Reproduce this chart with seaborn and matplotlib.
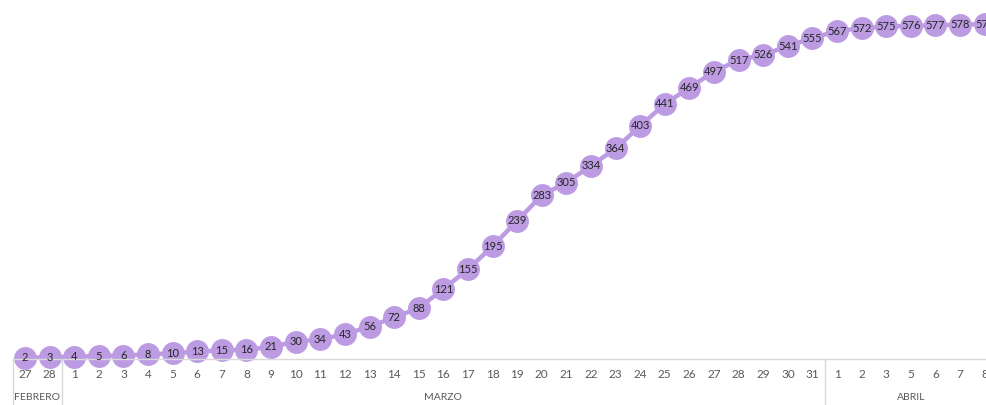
import matplotlib
matplotlib.use("Agg")
import matplotlib.pyplot as plt
import matplotlib.transforms as mtransforms
import seaborn as sns
import numpy as np

# data
days = ["27", "28"] + [str(d) for d in range(1, 32)] + ["1", "2", "3", "5", "6", "7", "8"]
cases = [2, 3, 4, 5, 6, 8, 10, 13, 15, 16, 21, 30, 34, 43, 56, 72, 88, 121, 155, 195,
         239, 283, 305, 334, 364, 403, 441, 469, 497, 517, 526, 541, 555, 567, 572, 575,
         576, 577, 578, 579]
months = ["FEBRERO", "MARZO", "ABRIL"]
month_sizes = [2, 31, 7]

sns.set_style("white")
plt.rcParams['font.family'] = ['Lato', 'DejaVu Sans']

purple = "#BC9BE3"
grey_txt = "#595959"
grey_line = "#D9D9D9"

fig = plt.figure(figsize=(9.87, 4.05), dpi=100)
ax = fig.add_axes([12.7 / 987, 46 / 405, (997 - 12.7) / 987, 347 / 405])

idx = np.arange(len(cases))
sns.lineplot(x=idx, y=cases, ax=ax, color=purple, linewidth=3.2, marker="o",
             markersize=16.5, markeredgewidth=0, markerfacecolor=purple, clip_on=False)

for i, v in zip(idx, cases):
    ax.text(i, v, str(v), ha="center", va="center", fontsize=8, color="#262626",
            clip_on=False)

ax.set_xlim(-0.5, len(cases) - 0.5)
ax.set_ylim(0, 600)
ax.set_yticks([])
ax.set_xticks([])
for s in ["top", "right", "left"]:
    ax.spines[s].set_visible(False)
ax.spines["bottom"].set_color(grey_line)
ax.spines["bottom"].set_linewidth(1)

trans = mtransforms.blended_transform_factory(ax.transData, ax.transAxes)
px = 1 / 347  # one pixel in axes fraction (vertical)

# day labels
for i, d in enumerate(days):
    ax.text(i, -15 * px, d, transform=trans, ha="center", va="center",
            fontsize=8.5, color=grey_txt, clip_on=False)

# month groups and separators
start = 0
bounds = [-0.5]
for m, n in zip(months, month_sizes):
    center = start + (n - 1) / 2
    ax.text(center, -38 * px, m, transform=trans, ha="center", va="center",
            fontsize=7.5, color=grey_txt, clip_on=False)
    start += n
    bounds.append(start - 0.5)

for b in bounds[:-1]:
    ax.plot([b, b], [0, -46 * px], transform=trans, color=grey_line, linewidth=1,
            clip_on=False)

fig.savefig("out.png", dpi=100)
